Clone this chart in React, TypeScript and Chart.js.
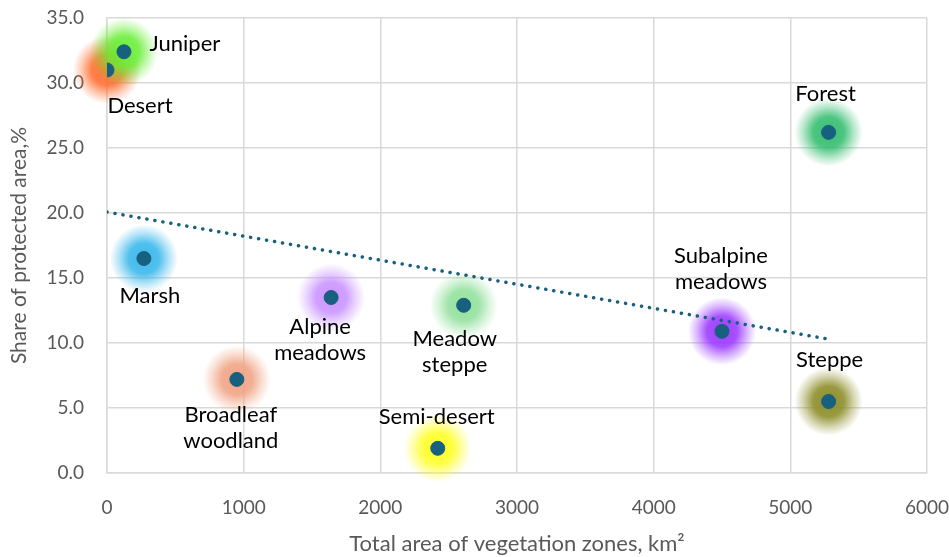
import React, { useEffect, useRef } from "react";
import { Chart, registerables } from "chart.js";

Chart.register(...registerables);

const zones = [
  "Desert",
  "Juniper",
  "Forest",
  "Marsh",
  "Alpine meadows",
  "Meadow steppe",
  "Subalpine meadows",
  "Steppe",
  "Broadleaf woodland",
  "Semi-desert",
];
const areaKm2 = [0, 124, 5280, 270, 1640, 2610, 4500, 5280, 950, 2420];
const protectedShare = [31.0, 32.4, 26.2, 16.5, 13.5, 12.9, 10.9, 5.5, 7.2, 1.9];
const xTicks = [0, 1000, 2000, 3000, 4000, 5000, 6000];
const yTicks = [0, 5, 10, 15, 20, 25, 30, 35];

// styling (not data)
const glowColors = [
  "255,106,42",
  "102,238,51",
  "45,187,106",
  "51,181,234",
  "200,144,255",
  "143,224,154",
  "153,51,255",
  "136,136,32",
  "240,160,128",
  "255,255,32",
];
const labelLines = [
  ["Desert"],
  ["Juniper"],
  ["Forest"],
  ["Marsh"],
  ["Alpine", "meadows"],
  ["Meadow", "steppe"],
  ["Subalpine", "meadows"],
  ["Steppe"],
  ["Broadleaf", "woodland"],
  ["Semi-desert"],
];
const labelOffsets = [
  [33, 36],
  [61, -8],
  [-3, -38],
  [6, 37],
  [-11, 29],
  [-9, 34],
  [-1, -75],
  [1, -42],
  [-6, 36],
  [-1, -31],
];

const FONT = "Lato, 'Noto Sans', sans-serif";

function regression(xs: number[], ys: number[]) {
  const n = xs.length;
  const mx = xs.reduce((a, b) => a + b, 0) / n;
  const my = ys.reduce((a, b) => a + b, 0) / n;
  let sxy = 0;
  let sxx = 0;
  for (let i = 0; i < n; i++) {
    sxy += (xs[i] - mx) * (ys[i] - my);
    sxx += (xs[i] - mx) * (xs[i] - mx);
  }
  const slope = sxy / sxx;
  return { slope, intercept: my - slope * mx };
}

export default function App() {
  const ref = useRef<HTMLCanvasElement>(null);

  useEffect(() => {
    document.body.style.margin = "0";
    const canvas = ref.current!;
    const { slope, intercept } = regression(areaKm2, protectedShare);
    const minX = Math.min(...areaKm2);
    const maxX = Math.max(...areaKm2);
    const trend = [
      { x: minX, y: intercept + slope * minX },
      { x: maxX, y: intercept + slope * maxX },
    ];
    const points = areaKm2.map((x, i) => ({ x, y: protectedShare[i] }));

    const glowPlugin = {
      id: "glow",
      beforeDatasetsDraw(chart: any) {
        const ctx = chart.ctx;
        const meta = chart.getDatasetMeta(0);
        ctx.save();
        meta.data.forEach((el: any, i: number) => {
          const r = 34;
          const g = ctx.createRadialGradient(el.x, el.y, 0, el.x, el.y, r);
          const c = glowColors[i];
          g.addColorStop(0, `rgba(${c},0.95)`);
          g.addColorStop(0.45, `rgba(${c},0.85)`);
          g.addColorStop(0.75, `rgba(${c},0.35)`);
          g.addColorStop(1, `rgba(${c},0)`);
          ctx.fillStyle = g;
          ctx.beginPath();
          ctx.arc(el.x, el.y, r, 0, Math.PI * 2);
          ctx.fill();
        });
        ctx.restore();
      },
      afterDatasetsDraw(chart: any) {
        const ctx = chart.ctx;
        const meta = chart.getDatasetMeta(0);
        ctx.save();
        ctx.fillStyle = "#000000";
        ctx.font = `22px ${FONT}`;
        ctx.textAlign = "center";
        ctx.textBaseline = "middle";
        meta.data.forEach((el: any, i: number) => {
          const [dx, dy] = labelOffsets[i];
          labelLines[i].forEach((line, j) => {
            ctx.fillText(line, el.x + dx, el.y + dy + j * 26);
          });
        });
        ctx.restore();
      },
    };

    const chart = new Chart(canvas, {
      type: "scatter",
      data: {
        datasets: [
          {
            label: "Zones",
            data: points,
            backgroundColor: "#17607f",
            borderColor: "#17607f",
            pointRadius: 7,
            pointHoverRadius: 7,
            order: 1,
          },
          {
            type: "line",
            label: "Trend",
            data: trend,
            borderColor: "#17607f",
            borderWidth: 3.5,
            borderDash: [0.1, 8],
            borderCapStyle: "round",
            pointRadius: 0,
            fill: false,
            order: 0,
          } as any,
        ],
      },
      options: {
        animation: false,
        responsive: false,
        layout: { autoPadding: false, padding: { top: 18, right: 22, left: 0, bottom: 0 } },
        plugins: {
          legend: { display: false },
          tooltip: { enabled: false },
        },
        scales: {
          x: {
            type: "linear",
            min: 0,
            max: 6000,
            afterBuildTicks: (s: any) => {
              s.ticks = xTicks.map((v) => ({ value: v }));
            },
            afterFit: (s: any) => {
              s.height = 84;
              s.paddingLeft = 0;
              s.paddingRight = 0;
            },
            ticks: {
              padding: 23,
              color: "#595959",
              font: { family: FONT, size: 19 },
              callback: (v: any) => String(v),
            },
            grid: { color: "#d9d9d9", lineWidth: 1.5, drawTicks: false },
            border: { color: "#d9d9d9", width: 1.5 },
            title: {
              display: true,
              text: "Total area of vegetation zones, km²",
              color: "#595959",
              font: { family: FONT, size: 22 },
              padding: { top: 0, bottom: 0 },
            },
          },
          y: {
            type: "linear",
            min: 0,
            max: 35,
            afterBuildTicks: (s: any) => {
              s.ticks = yTicks.map((v) => ({ value: v }));
            },
            afterFit: (s: any) => {
              s.width = 107;
              s.paddingTop = 0;
              s.paddingBottom = 0;
            },
            ticks: {
              padding: 23,
              color: "#595959",
              font: { family: FONT, size: 19 },
              callback: (v: any) => Number(v).toFixed(1),
            },
            grid: { color: "#d9d9d9", lineWidth: 1.5, drawTicks: false },
            border: { color: "#d9d9d9", width: 1.5 },
            title: {
              display: true,
              text: "Share of protected area,%",
              color: "#595959",
              font: { family: FONT, size: 21 },
              padding: { top: 7, bottom: 0 },
            },
          },
        },
      },
      plugins: [glowPlugin],
    } as any);

    return () => chart.destroy();
  }, []);

  return (
    <canvas
      ref={ref}
      width={949}
      height={557}
      style={{ display: "block", width: 949, height: 557 }}
    />
  );
}
